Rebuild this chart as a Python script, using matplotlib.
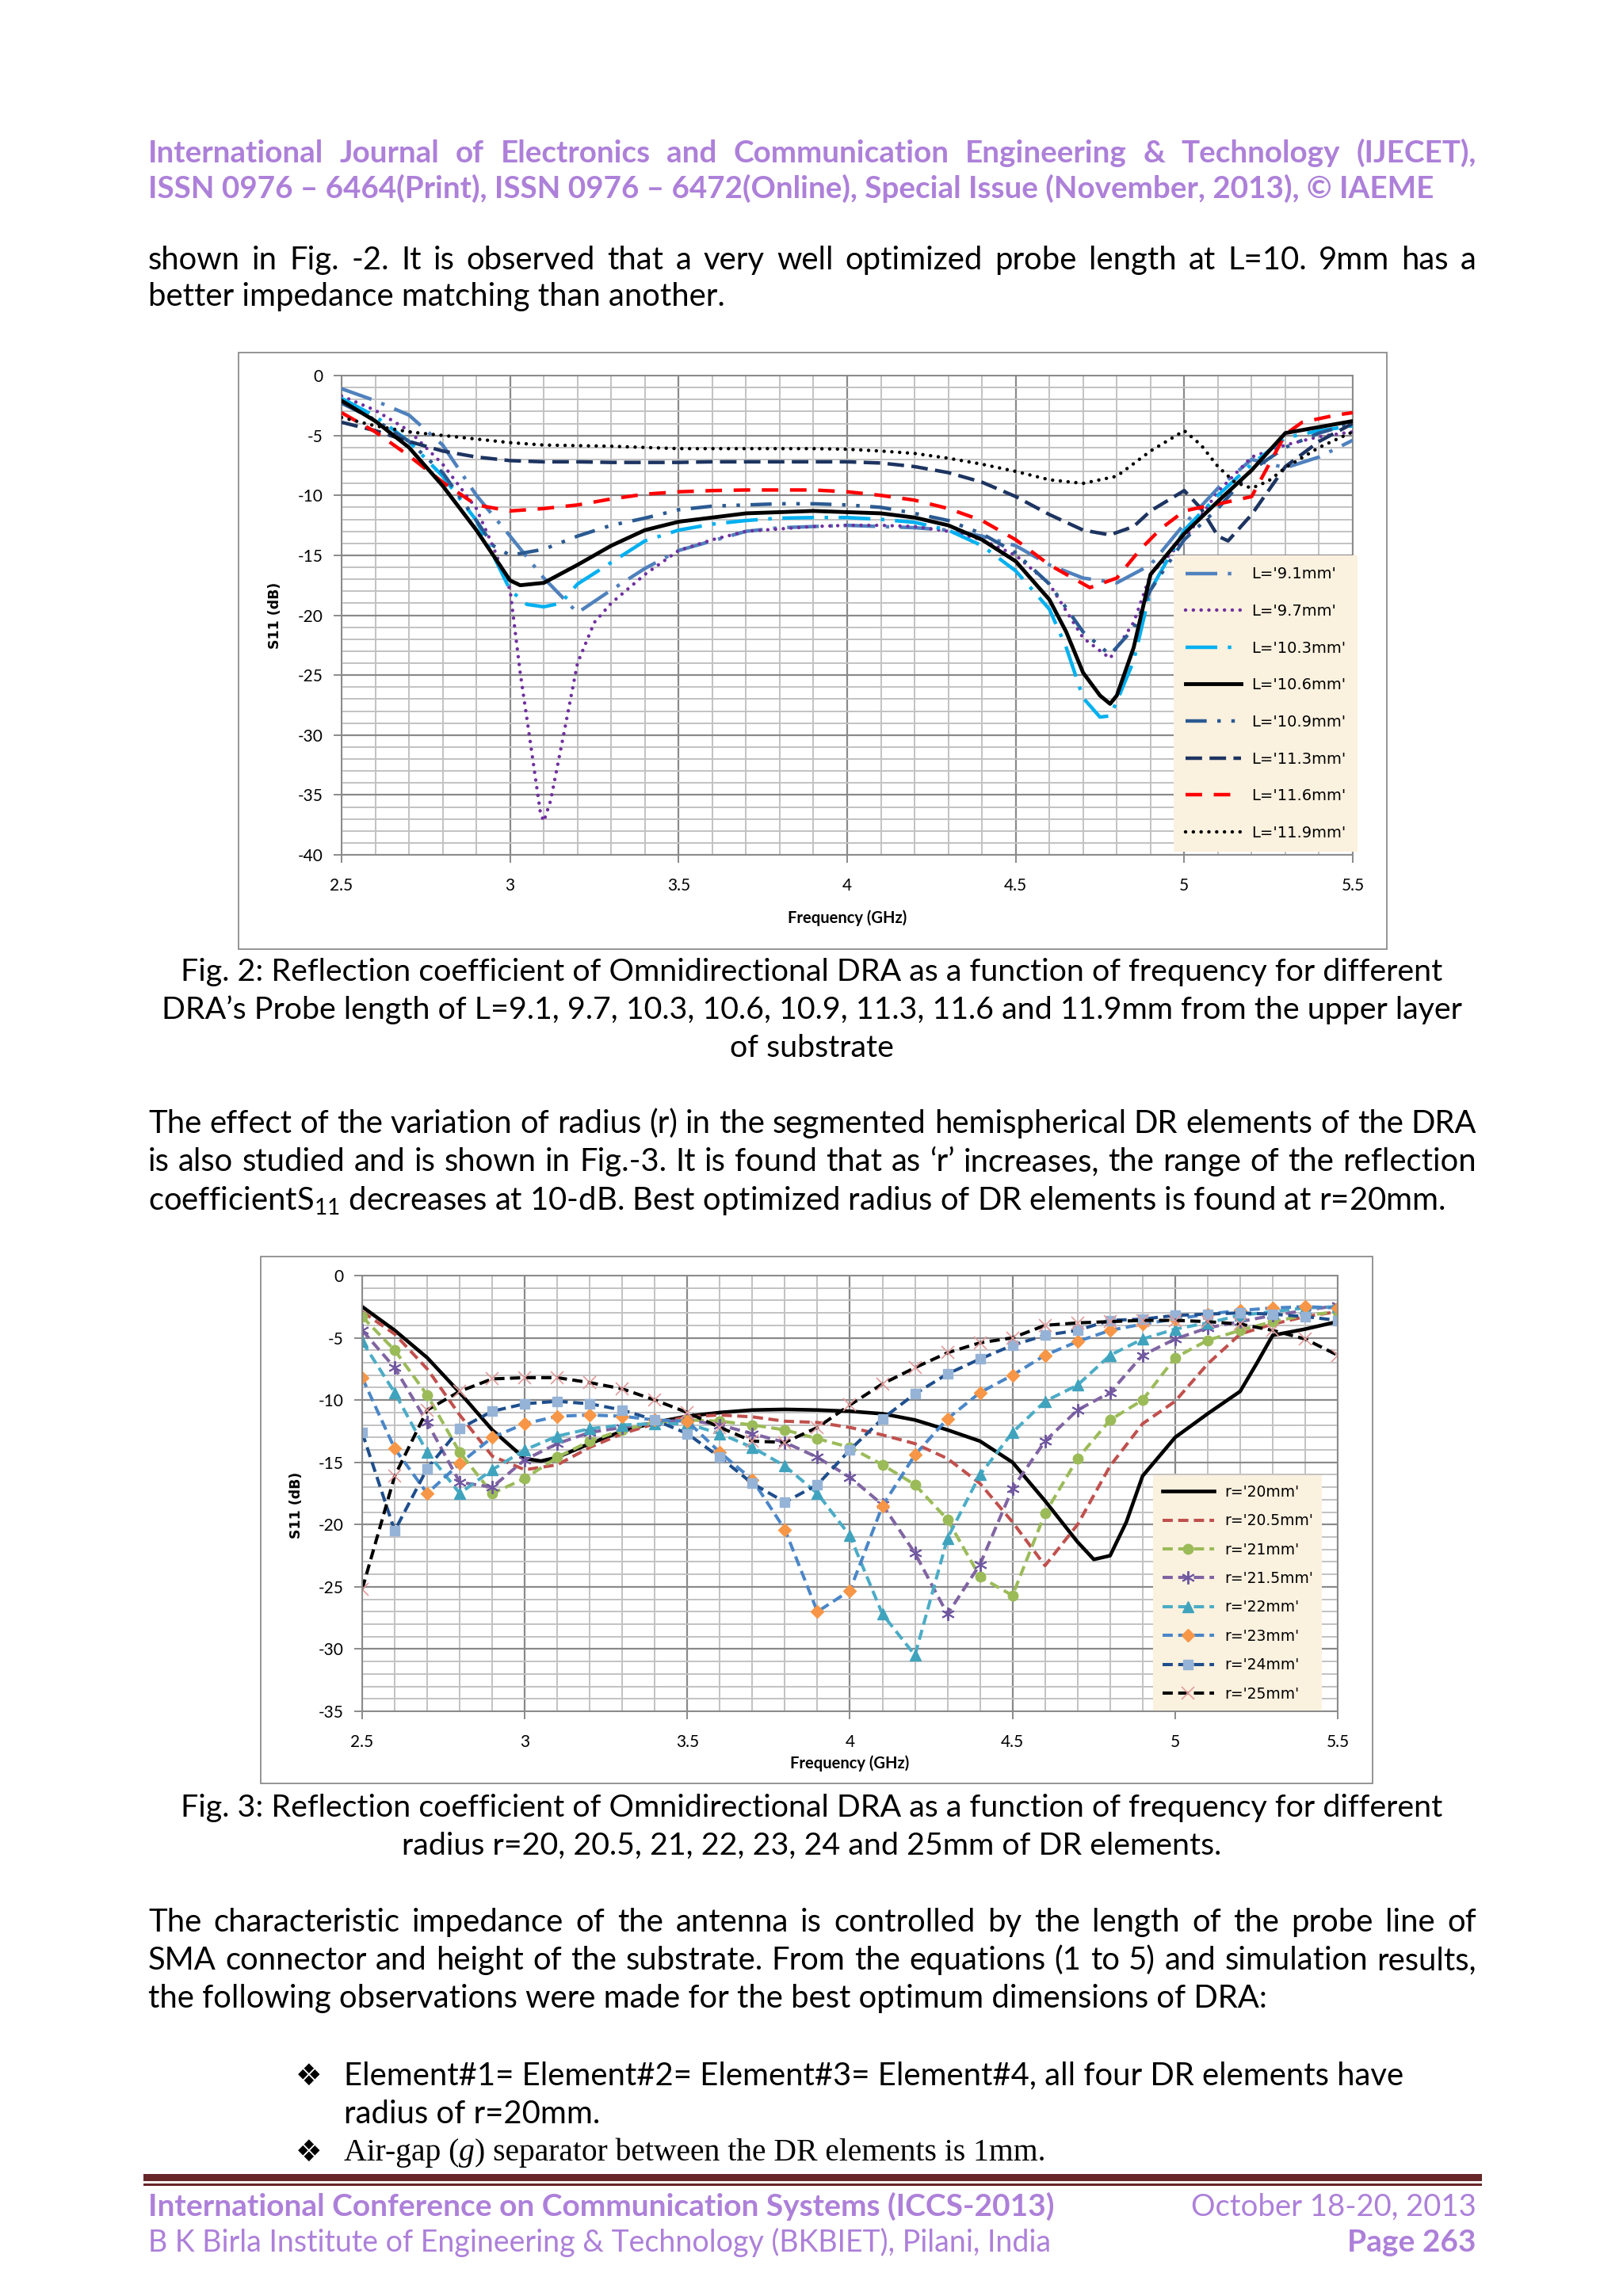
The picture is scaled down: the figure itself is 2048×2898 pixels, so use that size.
import numpy as np
import matplotlib
matplotlib.use('Agg')
import matplotlib.pyplot as plt
from matplotlib.patches import Rectangle

# ---------------- page text ----------------
header_lines = [
    "International Journal of Electronics and Communication Engineering & Technology (IJECET),",
    "ISSN 0976 – 6464(Print), ISSN 0976 – 6472(Online), Special Issue (November, 2013), © IAEME",
]
intro_lines = [
    "shown in Fig. -2. It is observed that a very well optimized probe length at L=10. 9mm has a",
    "better impedance matching than another.",
]
caption1_lines = [
    "Fig. 2: Reflection coefficient of Omnidirectional DRA as a function of frequency for different",
    "DRA’s Probe length of L=9.1, 9.7, 10.3, 10.6, 10.9, 11.3, 11.6 and 11.9mm from the upper layer",
    "of substrate",
]
para2_lines = [
    "The effect of the variation of radius (r) in the segmented hemispherical DR elements of the DRA",
    "is also studied and is shown in Fig.-3. It is found that as ‘r’ increases, the range of the reflection",
    "coefficientS$_{11}$ decreases at 10-dB. Best optimized radius of DR elements is found at r=20mm.",
]
caption2_lines = [
    "Fig. 3: Reflection coefficient of Omnidirectional DRA as a function of frequency for different",
    "radius r=20, 20.5, 21, 22, 23, 24 and 25mm of DR elements.",
]
para3_lines = [
    "The characteristic impedance of the antenna is controlled by the length of the probe line of",
    "SMA connector and height of the substrate. From the equations (1 to 5) and simulation results,",
    "the following observations were made for the best optimum dimensions of DRA:",
]
bullet1_lines = [
    "Element#1= Element#2= Element#3= Element#4, all four DR elements have",
    "radius of r=20mm.",
]
bullet2_runs = [("Air-gap (", "normal"), ("g", "italic"), (") separator between the DR elements is 1mm.", "normal")]
footer_left = ["International Conference on Communication Systems (ICCS-2013)",
               "B K Birla Institute of Engineering & Technology (BKBIET), Pilani, India"]
footer_right = ["October 18-20, 2013", "Page 263"]

# ---------------- Fig. 2 data : probe length L ----------------
fig2_labels = ["L='9.1mm'", "L='9.7mm'", "L='10.3mm'", "L='10.6mm'",
               "L='10.9mm'", "L='11.3mm'", "L='11.6mm'", "L='11.9mm'"]

f_L91 = [2.5, 2.6, 2.7, 2.8, 2.9, 3.0, 3.1, 3.2, 3.3, 3.4, 3.5, 3.6, 3.7, 3.8, 3.9, 4.0, 4.1,
         4.2, 4.3, 4.4, 4.5, 4.6, 4.7, 4.8, 4.9, 5.0, 5.1, 5.2, 5.3, 5.4, 5.5]
s_L91 = [-1.1, -2.1, -3.3, -5.8, -10.0, -13.4, -16.9, -19.8, -17.9, -16.1, -14.6, -13.8, -13.0, -12.7,
         -12.6, -12.5, -12.6, -12.7, -12.9, -13.4, -14.2, -15.8, -16.9, -17.3, -15.8, -12.4, -9.4,
         -7.0, -7.7, -6.8, -5.4]

f_L97 = [2.5, 2.6, 2.7, 2.8, 2.9, 2.95, 3.0, 3.03, 3.06, 3.09, 3.1, 3.12, 3.16, 3.2, 3.25, 3.3, 3.4,
         3.5, 3.6, 3.7, 3.8, 3.9, 4.0, 4.1, 4.2, 4.3, 4.4, 4.5, 4.6, 4.7, 4.78, 4.85, 4.9, 5.0, 5.1,
         5.2, 5.3, 5.4, 5.5]
s_L97 = [-1.7, -2.9, -4.6, -7.4, -11.1, -14.3, -17.9, -24.8, -30.6, -36.5, -37.2, -35.5, -29.8, -24.0,
         -20.6, -19.0, -16.6, -14.6, -13.7, -13.0, -12.8, -12.6, -12.5, -12.5, -12.6, -13.0, -13.7,
         -15.0, -17.4, -21.9, -23.6, -20.6, -16.6, -13.7, -9.7, -6.8, -5.8, -5.1, -4.7]

f_L103 = [2.5, 2.6, 2.7, 2.8, 2.9, 2.95, 3.0, 3.05, 3.1, 3.15, 3.2, 3.3, 3.4, 3.5, 3.6, 3.7, 3.8, 3.9,
          4.0, 4.1, 4.2, 4.3, 4.4, 4.5, 4.6, 4.65, 4.7, 4.75, 4.78, 4.8, 4.85, 4.9, 5.0, 5.1, 5.2,
          5.3, 5.4, 5.5]
s_L103 = [-1.9, -3.4, -5.5, -8.4, -12.1, -15.0, -17.9, -19.1, -19.3, -19.0, -17.4, -15.6, -13.8, -12.9,
          -12.4, -12.1, -11.9, -11.85, -11.85, -12.0, -12.25, -12.9, -14.2, -16.3, -19.5, -22.7,
          -26.9, -28.5, -28.4, -27.2, -23.8, -17.9, -12.9, -10.0, -7.4, -5.2, -4.6, -4.2]

f_L106 = [2.5, 2.6, 2.7, 2.8, 2.9, 2.95, 3.0, 3.03, 3.1, 3.2, 3.3, 3.4, 3.5, 3.6, 3.7, 3.8, 3.9, 4.0,
          4.1, 4.2, 4.3, 4.4, 4.5, 4.6, 4.65, 4.7, 4.75, 4.78, 4.8, 4.85, 4.9, 5.0, 5.1, 5.2, 5.3,
          5.4, 5.5]
s_L106 = [-2.1, -3.8, -6.0, -9.2, -12.9, -15.0, -17.1, -17.5, -17.3, -15.8, -14.2, -12.9, -12.2, -11.85,
          -11.5, -11.4, -11.3, -11.4, -11.5, -11.85, -12.5, -13.7, -15.5, -18.7, -21.4, -24.8, -26.7,
          -27.4, -26.7, -22.7, -16.6, -13.2, -10.5, -7.9, -4.8, -4.3, -3.8]

f_L109 = [2.5, 2.6, 2.7, 2.8, 2.9, 2.95, 3.0, 3.1, 3.2, 3.3, 3.4, 3.5, 3.6, 3.7, 3.8, 3.9, 4.0, 4.1,
          4.2, 4.3, 4.4, 4.5, 4.6, 4.7, 4.78, 4.85, 4.9, 5.0, 5.1, 5.2, 5.3, 5.4, 5.5]
s_L109 = [-2.3, -3.7, -5.5, -8.1, -12.1, -14.2, -15.0, -14.5, -13.4, -12.5, -11.9, -11.2, -10.9, -10.8,
          -10.7, -10.7, -10.8, -11.0, -11.5, -12.1, -13.2, -14.8, -17.4, -21.4, -23.3, -21.1, -17.9,
          -13.7, -11.1, -7.9, -6.0, -4.8, -4.0]

f_L113 = [2.5, 2.6, 2.7, 2.8, 2.9, 3.0, 3.1, 3.2, 3.3, 3.4, 3.5, 3.6, 3.7, 3.8, 3.9, 4.0, 4.1, 4.2,
          4.3, 4.4, 4.5, 4.6, 4.7, 4.78, 4.85, 4.9, 5.0, 5.05, 5.1, 5.13, 5.2, 5.3, 5.4, 5.5]
s_L113 = [-3.9, -4.6, -5.5, -6.3, -6.8, -7.1, -7.2, -7.2, -7.25, -7.25, -7.25, -7.2, -7.2, -7.2, -7.2,
          -7.2, -7.3, -7.6, -8.1, -8.9, -10.1, -11.6, -12.9, -13.3, -12.6, -11.3, -9.6, -11.1, -13.4,
          -13.8, -11.6, -7.6, -5.5, -4.0]

f_L116 = [2.5, 2.6, 2.7, 2.8, 2.9, 3.0, 3.1, 3.2, 3.3, 3.4, 3.5, 3.6, 3.7, 3.8, 3.9, 4.0, 4.1, 4.2,
          4.3, 4.4, 4.5, 4.6, 4.72, 4.8, 4.87, 4.93, 5.0, 5.05, 5.12, 5.2, 5.25, 5.3, 5.35, 5.45, 5.5]
s_L116 = [-3.1, -4.7, -6.7, -8.9, -10.8, -11.3, -11.1, -10.8, -10.3, -9.9, -9.7, -9.6, -9.55, -9.55,
          -9.55, -9.7, -10.0, -10.4, -11.1, -12.1, -13.7, -15.8, -17.7, -16.9, -14.5, -12.8, -11.3,
          -11.0, -10.6, -10.1, -7.5, -4.9, -3.9, -3.3, -3.1]

f_L119 = [2.5, 2.6, 2.7, 2.8, 2.9, 3.0, 3.1, 3.2, 3.3, 3.4, 3.5, 3.6, 3.7, 3.8, 3.9, 4.0, 4.1, 4.2,
          4.3, 4.4, 4.5, 4.6, 4.7, 4.8, 4.9, 5.0, 5.05, 5.1, 5.15, 5.2, 5.25, 5.3, 5.4, 5.5]
s_L119 = [-3.5, -4.2, -4.7, -5.0, -5.3, -5.6, -5.8, -5.85, -5.9, -6.0, -6.1, -6.1, -6.1, -6.1, -6.1,
          -6.15, -6.3, -6.5, -6.9, -7.4, -8.0, -8.7, -9.0, -8.4, -6.3, -4.6, -5.8, -7.6, -8.9, -9.4,
          -8.8, -7.7, -6.0, -4.7]

# ---------------- Fig. 3 data : radius r ----------------
fig3_labels = ["r='20mm'", "r='20.5mm'", "r='21mm'", "r='21.5mm'",
               "r='22mm'", "r='23mm'", "r='24mm'", "r='25mm'"]

f_r20 = [2.5, 2.6, 2.7, 2.8, 2.9, 3.0, 3.05, 3.1, 3.2, 3.3, 3.4, 3.5, 3.6, 3.7, 3.8, 3.9, 4.0, 4.1,
         4.2, 4.3, 4.4, 4.5, 4.6, 4.7, 4.75, 4.8, 4.85, 4.9, 5.0, 5.1, 5.2, 5.25, 5.3, 5.4, 5.5]
s_r20 = [-2.5, -4.4, -6.6, -9.4, -12.4, -14.7, -14.9, -14.6, -13.5, -12.5, -11.8, -11.3, -11.0, -10.8,
         -10.75, -10.8, -10.9, -11.1, -11.6, -12.4, -13.3, -15.0, -18.1, -21.4, -22.8, -22.5, -19.8,
         -16.1, -13.0, -11.1, -9.3, -7.1, -4.8, -4.3, -3.7]

f_r = [2.5, 2.6, 2.7, 2.8, 2.9, 3.0, 3.1, 3.2, 3.3, 3.4, 3.5, 3.6, 3.7, 3.8, 3.9, 4.0,
       4.1, 4.2, 4.3, 4.4, 4.5, 4.6, 4.7, 4.8, 4.9, 5.0, 5.1, 5.2, 5.3, 5.4, 5.5]
s_r205 = [-2.9, -4.7, -7.5, -11.2, -14.5, -15.6, -15.2, -13.8, -12.7, -11.9, -11.35, -11.2, -11.35,
          -11.7, -11.8, -12.2, -12.8, -13.5, -14.7, -16.7, -19.8, -23.3, -20.0, -15.3, -11.9, -10.1,
          -7.1, -4.7, -3.9, -3.3, -2.9]
s_r21 = [-3.3, -6.0, -9.6, -14.2, -17.5, -16.3, -14.6, -13.3, -12.4, -11.8, -11.6, -11.7, -12.0, -12.4,
         -13.1, -13.8, -15.2, -16.8, -19.6, -24.2, -25.7, -19.1, -14.7, -11.6, -10.0, -6.6, -5.2,
         -4.4, -3.7, -3.2, -2.9]
s_r215 = [-4.4, -7.4, -11.8, -16.6, -17.0, -14.8, -13.5, -12.6, -12.2, -11.8, -11.6, -12.0, -12.7,
          -13.4, -14.6, -16.2, -18.4, -22.3, -27.2, -23.2, -17.1, -13.3, -10.8, -9.4, -6.4, -5.1,
          -4.2, -3.7, -3.2, -2.8, -2.4]
s_r22 = [-5.3, -9.4, -14.2, -17.5, -15.6, -14.0, -12.9, -12.3, -12.0, -11.9, -11.9, -12.7, -13.8, -15.3,
         -17.5, -20.9, -27.2, -30.5, -21.1, -16.0, -12.6, -10.1, -8.8, -6.4, -5.1, -4.3, -3.8, -3.2,
         -2.9, -2.6, -2.5]
s_r23 = [-8.2, -13.9, -17.5, -15.1, -13.0, -11.9, -11.3, -11.2, -11.3, -11.6, -11.7, -14.2, -16.4,
         -20.4, -27.0, -25.3, -18.5, -14.4, -11.5, -9.4, -8.0, -6.4, -5.3, -4.4, -3.9, -3.5, -3.1,
         -2.8, -2.6, -2.5, -2.6]
s_r24 = [-12.6, -20.5, -15.5, -12.3, -10.9, -10.3, -10.1, -10.3, -10.8, -11.6, -12.7, -14.6, -16.7,
         -18.2, -16.8, -14.0, -11.5, -9.5, -7.9, -6.7, -5.6, -4.8, -4.4, -3.6, -3.5, -3.2, -3.1,
         -3.0, -3.1, -3.3, -3.6]
s_r25 = [-25.2, -16.1, -10.8, -9.3, -8.3, -8.2, -8.2, -8.6, -9.1, -10.0, -11.0, -12.2, -13.3, -13.4,
         -12.2, -10.4, -8.7, -7.4, -6.2, -5.4, -5.0, -4.0, -3.8, -3.7, -3.6, -3.6, -3.7, -3.9, -4.4,
         -5.1, -6.4]

x_ticks = [2.5, 3, 3.5, 4, 4.5, 5, 5.5]
x_ticklabels = ['2.5', '3', '3.5', '4', '4.5', '5', '5.5']

# ---------------- figure ----------------
W, H = 2048, 2898
plt.rcParams['mathtext.fontset'] = 'custom'
plt.rcParams['mathtext.rm'] = 'Lato'
plt.rcParams['mathtext.it'] = 'Lato:italic'
plt.rcParams['axes.unicode_minus'] = False
fig = plt.figure(figsize=(W / 100, H / 100), dpi=100)
fig.patch.set_facecolor('white')
renderer = fig.canvas.get_renderer()

PURPLE = '#ad80d9'
BODY = dict(family=['Lato', 'DejaVu Sans'], fontsize=28.8, color='black')
CAPTION = dict(family=['Lato', 'DejaVu Sans'], fontsize=28.4, color='black')


def put(text, x, y, ha='left', **kw):
    return fig.text(x / W, 1 - y / H, text, ha=ha, va='baseline', **kw)


def justified(text, x0, x1, y, **kw):
    words = text.split(' ')
    arts = [put(w, x0, y, **kw) for w in words]
    widths = [a.get_window_extent(renderer).width for a in arts]
    space = 0.22 * kw.get('fontsize', 12) * 100 / 72
    natural = sum(widths) + space * (len(words) - 1)
    if natural > (x1 - x0):
        # too long for the column: shrink this line a little
        scale = (x1 - x0) / natural
        for a in arts:
            a.set_fontsize(a.get_fontsize() * scale)
        widths = [a.get_window_extent(renderer).width for a in arts]
    gap = (x1 - x0 - sum(widths)) / (len(words) - 1)
    x = x0
    for a, w in zip(arts, widths):
        a.set_x(x / W)
        x += w + gap


def runs(parts, x, y, **kw):
    for text, style in parts:
        a = put(text, x, y, style=style, **kw)
        x += a.get_window_extent(renderer).width


LEFT, RIGHT = 187, 1863

# header
hdr = dict(family=['Lato', 'DejaVu Sans'], fontsize=27.8, color=PURPLE, weight='bold')
justified(header_lines[0], LEFT, RIGHT, 205, **hdr)
put(header_lines[1], LEFT, 250, **hdr)

# intro
justified(intro_lines[0], LEFT, RIGHT, 340, **BODY)
put(intro_lines[1], LEFT, 386, **BODY)

# captions / paragraphs
for yy, line in zip([1238, 1286, 1334], caption1_lines):
    put(line, 1024, yy, ha='center', **CAPTION)
justified(para2_lines[0], LEFT, RIGHT, 1430, **BODY)
justified(para2_lines[1], LEFT, RIGHT, 1478, **BODY)
put(para2_lines[2], LEFT, 1527, **BODY)
for yy, line in zip([2293, 2341], caption2_lines):
    put(line, 1024, yy, ha='center', **CAPTION)
justified(para3_lines[0], LEFT, RIGHT, 2438, **BODY)
justified(para3_lines[1], LEFT, RIGHT, 2486, **BODY)
put(para3_lines[2], LEFT, 2534, **BODY)

# bullets
put('❖', 390, 2632, ha='center', family='DejaVu Sans', fontsize=27, color='black')
put('❖', 390, 2728, ha='center', family='DejaVu Sans', fontsize=27, color='black')
put(bullet1_lines[0], 434, 2631, **BODY)
put(bullet1_lines[1], 434, 2680, **BODY)
runs(bullet2_runs, 434, 2727, family='Liberation Serif', fontsize=28.5, color='black')

# footer rule
fig.add_artist(Rectangle((181 / W, 1 - 2753 / H), (1870 - 181) / W, 9 / H,
                         transform=fig.transFigure, fc='#672628', ec='none'))
fig.add_artist(Rectangle((181 / W, 1 - 2759 / H), (1870 - 181) / W, 3 / H,
                         transform=fig.transFigure, fc='#672628', ec='none'))
ftr = dict(family=['Lato', 'DejaVu Sans'], color=PURPLE)
put(footer_left[0], LEFT, 2797, weight='bold', fontsize=28, **ftr)
put(footer_left[1], LEFT, 2842, fontsize=27, **ftr)
put(footer_right[0], RIGHT, 2797, ha='right', fontsize=27.5, **ftr)
put(footer_right[1], RIGHT, 2842, ha='right', weight='bold', fontsize=28, **ftr)

# chart frames
for (x0, y0, x1, y1) in [(301, 445, 1750, 1198), (329, 1586, 1732, 2251)]:
    fig.add_artist(Rectangle((x0 / W, 1 - y1 / H), (x1 - x0) / W, (y1 - y0) / H,
                             transform=fig.transFigure, fill=False, ec='#8c8c8c', lw=1.3))

CHART_FONT = ['Liberation Sans Narrow', 'Lato']


def style_axes(ax, ymin, xlabel_y):
    ax.set_xlim(2.5, 5.5)
    ax.set_ylim(ymin, 0)
    ax.set_xticks(x_ticks)
    ax.set_xticklabels(x_ticklabels)
    ax.set_xticks(np.arange(2.5, 5.51, 0.1), minor=True)
    ax.set_yticks(np.arange(ymin, 0.1, 5))
    ax.set_yticks(np.arange(ymin, 0.1, 1), minor=True)
    ax.grid(which='major', color='#8a8a8a', lw=1.6)
    ax.grid(which='minor', color='#c2c2c2', lw=1.4)
    ax.set_axisbelow(True)
    ax.tick_params(which='major', length=7, color='#8a8a8a', width=1.4, labelsize=15, pad=10)
    ax.tick_params(which='minor', length=0)
    ax.tick_params(axis='x', pad=14)
    for lab in ax.get_xticklabels() + ax.get_yticklabels():
        lab.set_family(CHART_FONT)
    for sp in ax.spines.values():
        sp.set_color('#8a8a8a')
        sp.set_linewidth(1.4)
    ax.set_ylabel('S11 (dB)', family='DejaVu Sans', weight='bold', fontsize=12.5)
    ax.set_xlabel('Frequency (GHz)', family=CHART_FONT, weight='bold', fontsize=14.5)
    ax.xaxis.set_label_coords(0.5, xlabel_y, transform=ax.transAxes)


# ---- Fig. 2 chart ----
ax1 = fig.add_axes([431 / W, 1 - 1079 / H, (1707 - 431) / W, (1079 - 474) / H])
style_axes(ax1, -40, -0.115)
ax1.yaxis.set_label_coords(356 / W, 1 - 777 / H, transform=fig.transFigure)

lw1 = 3.2
series1 = [
    (f_L91, s_L91, '#4f81bd', dict(dashes=(9, 3, 1, 3))),
    (f_L97, s_L97, '#7030a0', dict(dashes=(0.01, 2.2), dash_capstyle='round')),
    (f_L103, s_L103, '#00b0f0', dict(dashes=(9, 3, 1, 3))),
    (f_L106, s_L106, 'black', dict(ls='-', lw=3.5)),
    (f_L109, s_L109, '#2b5a92', dict(dashes=(6, 3, 1, 3, 1, 3))),
    (f_L113, s_L113, '#1d3461', dict(dashes=(4.7, 2.1))),
    (f_L116, s_L116, '#ff0000', dict(dashes=(4.7, 3.3))),
    (f_L119, s_L119, 'black', dict(dashes=(0.01, 2.2), dash_capstyle='round')),
]
handles1 = []
for (f, s, c, st), lab in zip(series1, fig2_labels):
    kw = dict(lw=lw1)
    kw.update(st)
    ln, = ax1.plot(f, s, color=c, label=lab, zorder=3 if c != 'black' or 'dashes' in st else 4, **kw)
    handles1.append(ln)
leg1 = ax1.legend(handles=handles1, loc='upper left', bbox_to_anchor=(0.823, 0.625),
                  frameon=True, fancybox=False, facecolor='#fbf1df', edgecolor='none',
                  framealpha=1, prop=dict(family='DejaVu Sans', size=14),
                  handlelength=3.6, labelspacing=1.42, borderpad=0.75, handletextpad=0.7,
                  borderaxespad=0)
leg1.set_zorder(10)

# ---- Fig. 3 chart ----
ax2 = fig.add_axes([457 / W, 1 - 2160 / H, (1688 - 457) / W, (2160 - 1610) / H])
style_axes(ax2, -35, -0.1)
ax2.yaxis.set_label_coords(383 / W, 1 - 1900 / H, transform=fig.transFigure)

lw2 = 2.9
dash2 = (3.2, 1.7)
series2 = [
    (f_r20, s_r20, 'black', dict(ls='-', lw=3.3)),
    (f_r, s_r205, '#c0504d', dict(dashes=dash2)),
    (f_r, s_r21, '#9bbb59', dict(dashes=dash2, marker='o', ms=9, mfc='#9bbb59', mec='#9bbb59')),
    (f_r, s_r215, '#8064a2', dict(dashes=dash2, marker=(6, 2, 0), ms=12, mec='#7058a0', mew=1.4)),
    (f_r, s_r22, '#4bacc6', dict(dashes=dash2, marker='^', ms=10, mfc='#3fa3bd', mec='#3fa3bd')),
    (f_r, s_r23, '#4a86c8', dict(dashes=dash2, marker='D', ms=8, mfc='#f79646', mec='#f79646')),
    (f_r, s_r24, '#1f4e8c', dict(dashes=dash2, marker='s', ms=9, mfc='#95b3d7', mec='#95b3d7')),
    (f_r, s_r25, 'black', dict(dashes=dash2, marker='x', ms=11, mec='#e39a9a', mew=1.2)),
]
handles2 = []
for (f, s, c, st), lab in zip(series2, fig3_labels):
    kw = dict(lw=lw2)
    kw.update(st)
    ln, = ax2.plot(f, s, color=c, label=lab, **kw)
    handles2.append(ln)
leg2 = ax2.legend(handles=handles2, loc='upper left', bbox_to_anchor=(0.811, 0.541),
                  frameon=True, fancybox=False, facecolor='#fbf1df', edgecolor='none',
                  framealpha=1, prop=dict(family='DejaVu Sans', size=13.5),
                  handlelength=3.5, labelspacing=0.93, borderpad=0.6, handletextpad=0.7,
                  borderaxespad=0)
leg2.set_zorder(10)

fig.savefig('out.png', dpi=100, facecolor='white')
